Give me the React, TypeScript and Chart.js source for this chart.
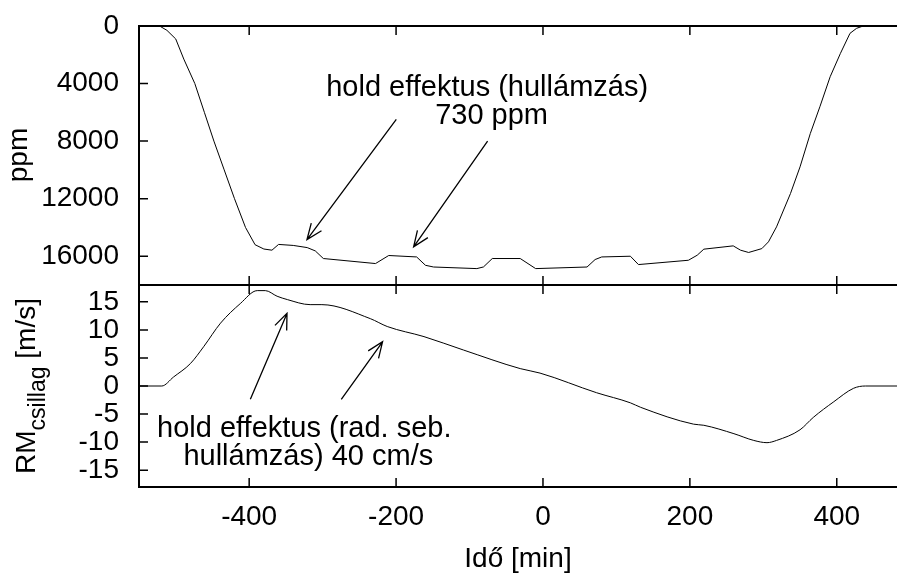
import React, { useEffect, useRef } from "react";
import { Chart, registerables } from "chart.js";

Chart.register(...registerables);

// ---------------- data ----------------
const topTime = [-550,-522,-512,-500,-489,-474,-461,-448,-434,-420,-405,-392,-380,-369,-360,-340,-321,-310,-299,-228,-210,-172,-160,-149,-90,-81,-69,-31,-10,60,71,80,119,130,198,210,219,259,269,280,298,307,318,337,350,364,377,391,405,418,427,436,482];
const topPpm = [0,0,300,900,2300,4000,6000,8000,10000,12000,14000,15200,15500,15580,15180,15250,15400,15630,16160,16510,15950,16050,16630,16750,16860,16745,16160,16160,16860,16750,16230,16050,16000,16580,16280,15930,15510,15280,15580,15740,15470,15000,13960,11640,9790,7465,5613,3525,1900,510,160,0,0];

const botTime = [-550,-519,-503,-480,-462,-439,-412,-389,-378,-362,-348,-317,-301,-235,-212,-162,-108,-31,-4,73,119,133,205,219,260,287,305,318,350,368,396,423,439,482];
const botRm = [0,0,1.6,4.0,7.0,11.2,14.7,17.0,17.0,16.0,15.4,14.5,14.5,12.0,10.6,8.8,6.4,3.1,2.3,-1.2,-3.0,-3.8,-6.8,-7.0,-8.5,-9.7,-10.1,-9.7,-7.8,-5.6,-2.8,-0.4,0,0];

const xTicks = [-400, -200, 0, 200, 400];
const topYTicks = [0, 4000, 8000, 12000, 16000];
const botYTicks = [-15, -10, -5, 0, 5, 10, 15];

const X_MIN = -550, X_MAX = 482;
const TOP_MIN = 0, TOP_MAX = 18000;
const BOT_MIN = -18, BOT_MAX = 18;

// annotations (data coordinates)
const topTextLines = [
  { text: "hold effektus (hullámzás)", x: -76, y: 4870 },
  { text: "730 ppm", x: -70, y: 6840 },
];
const topArrows = [
  { x1: -199.7, y1: 6490, x2: -321.3, y2: 14840 },
  { x1: -75.4, y1: 8000, x2: -176.1, y2: 15350 },
];
const botTextLines = [
  { text: "hold effektus (rad. seb.", x: -325, y: -9.13 },
  { text: "hullámzás) 40 cm/s", x: -319.5, y: -14.06 },
];
const botArrows = [
  { x1: -398.4, y1: -2.37, x2: -348.5, y2: 12.94 },
  { x1: -274.6, y1: -2.37, x2: -218.4, y2: 7.88 },
];

const FONT = "'Liberation Sans', Arial, Helvetica, sans-serif";
const W = 897, H = 573;
const AXIS_W = 139;
const TICK = 9;

function drawArrow(ctx: CanvasRenderingContext2D, x1: number, y1: number, x2: number, y2: number) {
  const ang = Math.atan2(y1 - y2, x1 - x2);
  const L = 17, h = (22 * Math.PI) / 180;
  ctx.beginPath();
  ctx.moveTo(x1, y1);
  ctx.lineTo(x2, y2);
  ctx.moveTo(x2 + L * Math.cos(ang + h), y2 + L * Math.sin(ang + h));
  ctx.lineTo(x2, y2);
  ctx.lineTo(x2 + L * Math.cos(ang - h), y2 + L * Math.sin(ang - h));
  ctx.stroke();
}

function makePlugin(kind: "top" | "bottom") {
  return {
    id: "frame_" + kind,
    afterDraw(chart: any) {
      const { ctx, chartArea: a, scales } = chart;
      const xs = scales.x, ys = scales.y;
      const yTicks = kind === "top" ? topYTicks : botYTicks;
      ctx.save();
      ctx.strokeStyle = "#000";
      ctx.lineCap = "butt";
      // tick marks (inward)
      ctx.lineWidth = 1.5;
      ctx.beginPath();
      for (const v of xTicks) {
        const px = xs.getPixelForValue(v);
        ctx.moveTo(px, a.top);
        ctx.lineTo(px, a.top + TICK);
        ctx.moveTo(px, a.bottom);
        ctx.lineTo(px, a.bottom - TICK);
      }
      for (const v of yTicks) {
        const py = ys.getPixelForValue(v);
        ctx.moveTo(a.left, py);
        ctx.lineTo(a.left + TICK, py);
      }
      ctx.stroke();
      // frame
      ctx.lineWidth = 2;
      ctx.beginPath();
      ctx.moveTo(a.right, a.top);
      ctx.lineTo(a.left, a.top);
      ctx.lineTo(a.left, a.bottom);
      ctx.lineTo(a.right, a.bottom);
      ctx.stroke();

      // annotations
      ctx.fillStyle = "#000";
      ctx.font = `29px ${FONT}`;
      ctx.textAlign = "center";
      ctx.textBaseline = "alphabetic";
      const lines = kind === "top" ? topTextLines : botTextLines;
      for (const l of lines) {
        ctx.fillText(l.text, xs.getPixelForValue(l.x), ys.getPixelForValue(l.y));
      }
      ctx.lineWidth = 1.3;
      const arrows = kind === "top" ? topArrows : botArrows;
      for (const ar of arrows) {
        drawArrow(
          ctx,
          xs.getPixelForValue(ar.x1), ys.getPixelForValue(ar.y1),
          xs.getPixelForValue(ar.x2), ys.getPixelForValue(ar.y2)
        );
      }

      // y axis titles
      if (kind === "top") {
        ctx.save();
        ctx.translate(27, 155);
        ctx.rotate(-Math.PI / 2);
        ctx.textAlign = "center";
        ctx.font = `28px ${FONT}`;
        ctx.fillText("ppm", 0, 0);
        ctx.restore();
      } else {
        ctx.save();
        ctx.font = `28px ${FONT}`;
        const w1 = ctx.measureText("RM").width;
        const w3 = ctx.measureText(" [m/s]").width;
        ctx.font = `23px ${FONT}`;
        const w2 = ctx.measureText("csillag").width;
        const total = w1 + w2 + w3;
        const cy = (a.top + a.bottom) / 2;
        ctx.translate(35, cy + total / 2);
        ctx.rotate(-Math.PI / 2);
        ctx.textAlign = "left";
        ctx.font = `28px ${FONT}`;
        ctx.fillText("RM", 0, 0);
        ctx.font = `23px ${FONT}`;
        ctx.fillText("csillag", w1, 10);
        ctx.font = `28px ${FONT}`;
        ctx.fillText(" [m/s]", w1 + w2, 0);
        ctx.restore();
      }
      ctx.restore();
    },
  };
}

const noPadFit = (width?: number, height?: number) => (s: any) => {
  if (width !== undefined) s.width = width;
  if (height !== undefined) s.height = height;
  s.paddingTop = 0;
  s.paddingBottom = 0;
  s.paddingLeft = 0;
  s.paddingRight = 0;
};

export default function App() {
  const topRef = useRef<HTMLCanvasElement>(null);
  const botRef = useRef<HTMLCanvasElement>(null);

  useEffect(() => {
    const tickFont = { size: 28, family: FONT };
    const fmt = (v: any) => String(v);
    const top = new Chart(topRef.current as HTMLCanvasElement, {
      type: "line",
      data: {
        datasets: [
          {
            data: topTime.map((t, i) => ({ x: t, y: topPpm[i] })),
            borderColor: "#000",
            borderWidth: 1,
            pointRadius: 0,
            tension: 0,
          },
        ],
      },
      options: {
        animation: false,
        responsive: false,
        devicePixelRatio: 1,
        layout: { padding: { left: 0, right: 0, top: 26, bottom: H - 285 } },
        plugins: { legend: { display: false }, tooltip: { enabled: false } },
        scales: {
          x: { type: "linear", min: X_MIN, max: X_MAX, display: false },
          y: {
            type: "linear",
            position: "left",
            reverse: true,
            min: TOP_MIN,
            max: TOP_MAX,
            grid: { display: false, drawTicks: false },
            border: { display: false },
            afterBuildTicks: (s: any) => {
              s.ticks = topYTicks.map((v) => ({ value: v }));
            },
            afterFit: noPadFit(AXIS_W),
            ticks: { font: tickFont, color: "#000", padding: 20, autoSkip: false, callback: fmt },
          },
        },
      },
      plugins: [makePlugin("top")],
    } as any);

    const bot = new Chart(botRef.current as HTMLCanvasElement, {
      type: "line",
      data: {
        datasets: [
          {
            data: botTime.map((t, i) => ({ x: t, y: botRm[i] })),
            borderColor: "#000",
            borderWidth: 1,
            pointRadius: 0,
            cubicInterpolationMode: "monotone",
          },
        ],
      },
      options: {
        animation: false,
        responsive: false,
        devicePixelRatio: 1,
        layout: { padding: { left: 0, right: 0, top: 285, bottom: 0 } },
        plugins: { legend: { display: false }, tooltip: { enabled: false } },
        scales: {
          x: {
            type: "linear",
            min: X_MIN,
            max: X_MAX,
            grid: { display: false, drawTicks: false },
            border: { display: false },
            afterBuildTicks: (s: any) => {
              s.ticks = xTicks.map((v) => ({ value: v }));
            },
            afterFit: noPadFit(undefined, H - 487),
            ticks: { font: tickFont, color: "#000", padding: 13, maxRotation: 0, autoSkip: false, callback: fmt },
            title: {
              display: true,
              text: "Idő [min]",
              font: { size: 28, family: FONT },
              color: "#000",
              padding: { top: 0, bottom: -3 },
            },
          },
          y: {
            type: "linear",
            position: "left",
            min: BOT_MIN,
            max: BOT_MAX,
            grid: { display: false, drawTicks: false },
            border: { display: false },
            afterBuildTicks: (s: any) => {
              s.ticks = botYTicks.map((v) => ({ value: v }));
            },
            afterFit: noPadFit(AXIS_W),
            ticks: { font: tickFont, color: "#000", padding: 20, autoSkip: false, callback: fmt },
          },
        },
      },
      plugins: [makePlugin("bottom")],
    } as any);

    return () => {
      top.destroy();
      bot.destroy();
    };
  }, []);

  const cs: React.CSSProperties = { position: "absolute", left: 0, top: 0, width: W, height: H };
  return (
    <div style={{ position: "fixed", left: 0, top: 0, width: W, height: H, background: "#fff", overflow: "hidden" }}>
      <canvas ref={topRef} width={W} height={H} style={cs} />
      <canvas ref={botRef} width={W} height={H} style={cs} />
    </div>
  );
}
